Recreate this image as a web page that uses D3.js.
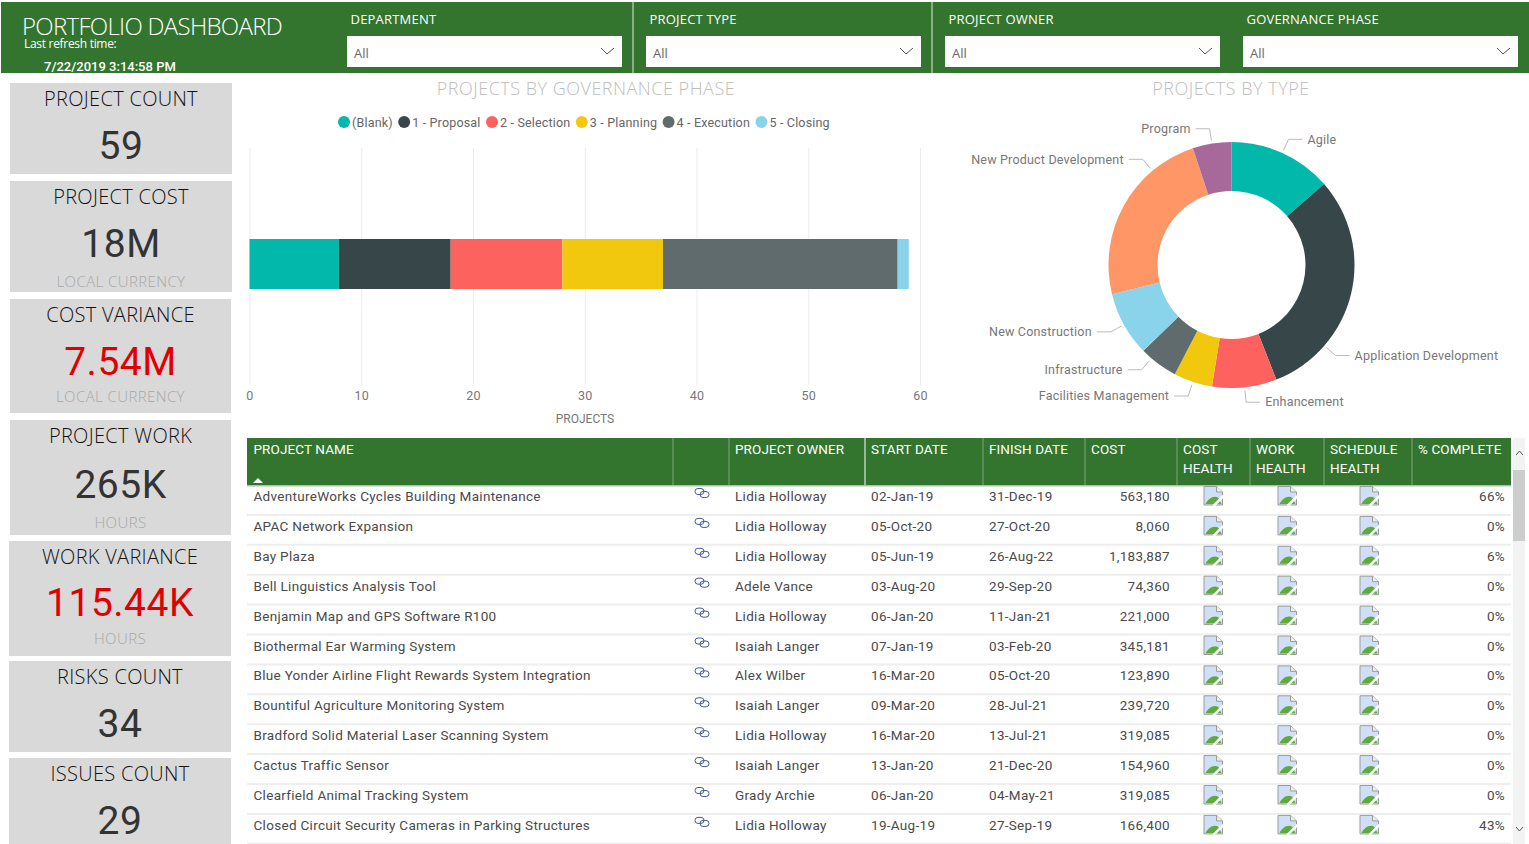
<!DOCTYPE html>
<html>
<head>
<meta charset="utf-8">
<title>Portfolio Dashboard</title>
<script src="https://cdn.jsdelivr.net/npm/d3@7"></script>
<style>
  html, body { margin: 0; padding: 0; background: #fff; overflow: hidden; }
  svg { display: block; }
  .din { font-family: Roboto, sans-serif; }
  .seg { font-family: "Open Sans", sans-serif; }
  .grid .domain { display: none; }
  .grid line { stroke: #ececec; }
  .grid text { font-family: Roboto, sans-serif; font-size: 12.5px; fill: #777; letter-spacing: .3px; }
</style>
</head>
<body>
<svg id="chart" width="1529" height="844"></svg>
<script>
// ---- data ----
var filterLabels = ["DEPARTMENT", "PROJECT TYPE", "PROJECT OWNER", "GOVERNANCE PHASE"];

var kpiTitles = ["PROJECT COUNT", "PROJECT COST", "COST VARIANCE", "PROJECT WORK", "WORK VARIANCE", "RISKS COUNT", "ISSUES COUNT"];
var kpiValues = ["59", "18M", "7.54M", "265K", "115.44K", "34", "29"];
var kpiUnits = ["", "LOCAL CURRENCY", "LOCAL CURRENCY", "HOURS", "HOURS", "", ""];
var kpiAlert = [false, false, true, false, true, false, false];

var phases = ["(Blank)", "1 - Proposal", "2 - Selection", "3 - Planning", "4 - Execution", "5 - Closing"];
var phaseCounts = [8, 10, 10, 9, 21, 1];
var phaseTicks = [0, 10, 20, 30, 40, 50, 60];

var projectTypes = ["Agile", "Application Development", "Enhancement", "Facilities Management", "Infrastructure", "New Construction", "New Product Development", "Program"];
var typeCounts = [8, 18, 5, 3, 3, 5, 14, 3];

var tableHeaders = [["PROJECT NAME"], [""], ["PROJECT OWNER"], ["START DATE"], ["FINISH DATE"], ["COST"], ["COST", "HEALTH"], ["WORK", "HEALTH"], ["SCHEDULE", "HEALTH"], ["% COMPLETE"]];
var projectNames = [
  "AdventureWorks Cycles Building Maintenance",
  "APAC Network Expansion",
  "Bay Plaza",
  "Bell Linguistics Analysis Tool",
  "Benjamin Map and GPS Software R100",
  "Biothermal Ear Warming System",
  "Blue Yonder Airline Flight Rewards System Integration",
  "Bountiful Agriculture Monitoring System",
  "Bradford Solid Material Laser Scanning System",
  "Cactus Traffic Sensor",
  "Clearfield Animal Tracking System",
  "Closed Circuit Security Cameras in Parking Structures"
];
var projectOwners = ["Lidia Holloway", "Lidia Holloway", "Lidia Holloway", "Adele Vance", "Lidia Holloway", "Isaiah Langer", "Alex Wilber", "Isaiah Langer", "Lidia Holloway", "Isaiah Langer", "Grady Archie", "Lidia Holloway"];
var startDates = ["02-Jan-19", "05-Oct-20", "05-Jun-19", "03-Aug-20", "06-Jan-20", "07-Jan-19", "16-Mar-20", "09-Mar-20", "16-Mar-20", "13-Jan-20", "06-Jan-20", "19-Aug-19"];
var finishDates = ["31-Dec-19", "27-Oct-20", "26-Aug-22", "29-Sep-20", "11-Jan-21", "03-Feb-20", "05-Oct-20", "28-Jul-21", "13-Jul-21", "21-Dec-20", "04-May-21", "27-Sep-19"];
var costs = [563180, 8060, 1183887, 74360, 221000, 345181, 123890, 239720, 319085, 154960, 319085, 166400];
var percentComplete = [66, 0, 6, 0, 0, 0, 0, 0, 0, 0, 0, 43];

// ---- colours ----
var green = "#33752f";
var palette = ["#01b8aa", "#374649", "#fd625e", "#f2c80f", "#5f6b6d", "#8ad4eb", "#fe9666", "#a66999"];

var svg = d3.select("#chart");

function label(parent, x, y, text, size, color, cls, anchor) {
  return parent.append("text")
    .attr("class", cls)
    .attr("x", x).attr("y", y)
    .attr("dominant-baseline", "central")
    .attr("text-anchor", anchor || "start")
    .style("font-size", size + "px")
    .style("fill", color)
    .text(text);
}

// ---- header ----
var header = svg.append("g");
header.append("rect").attr("x", 1).attr("y", 2).attr("width", 1528).attr("height", 71).attr("fill", green);
header.selectAll("line").data([633, 932]).enter().append("line")
  .attr("x1", function(d) { return d; }).attr("x2", function(d) { return d; })
  .attr("y1", 2).attr("y2", 73).attr("stroke", "#dfe9de");

label(header, 22, 25.5, "PORTFOLIO DASHBOARD", 24, "#fff", "seg").style("font-weight", 300).style("letter-spacing", "-.7px");
label(header, 24, 43.5, "Last refresh time:", 12, "#fff", "seg").style("letter-spacing", "-.3px");
label(header, 44, 66, "7/22/2019 3:14:58 PM", 13, "#fff", "din").style("font-weight", 500);

var filterX = d3.scaleOrdinal().domain(filterLabels).range([347, 646, 945, 1243]);
filterLabels.forEach(function(name) {
  var x = filterX(name);
  label(header, x + 3.5, 19, name, 13, "#fff", "seg").style("letter-spacing", ".2px");
  header.append("rect").attr("x", x).attr("y", 36).attr("width", 275).attr("height", 31).attr("fill", "#fff");
  label(header, x + 7, 53, "All", 13, "#666", "seg");
  header.append("path")
    .attr("d", d3.line()([[x + 254, 48], [x + 260, 54], [x + 267, 48]]))
    .attr("fill", "none").attr("stroke", "#555");
});

// ---- kpi cards ----
// x, y, width, height, value offset, unit offset
var cardBoxes = [[10, 83, 222, 91, 63], [10, 181, 222, 111, 63, 100], [10, 299, 221, 114, 63, 97], [10, 420, 221, 115, 65, 102], [9, 541, 222, 115, 62, 97], [9, 661, 222, 91, 63], [9, 758, 222, 86, 63]];
var cards = svg.append("g");
kpiTitles.forEach(function(title, i) {
  var b = cardBoxes[i];
  var cx = b[0] + b[2] / 2;
  cards.append("rect").attr("x", b[0]).attr("y", b[1]).attr("width", b[2]).attr("height", b[3]).attr("fill", "#d9d9d9");
  label(cards, cx, b[1] + 15.5, title, 20, "#111", "seg", "middle").style("font-weight", 300).style("letter-spacing", ".3px");
  label(cards, cx, b[1] + b[4], kpiValues[i], 39, kpiAlert[i] ? "#e00000" : "#333", "din", "middle").style("letter-spacing", ".5px");
  if (kpiUnits[i]) {
    label(cards, cx, b[1] + b[5], kpiUnits[i], 15, "#a8a8a8", "seg", "middle").style("font-weight", 300).style("letter-spacing", ".4px");
  }
});

// ---- stacked bar ----
var titleColor = "#bdbdbd";
label(svg, 586, 87.5, "PROJECTS BY GOVERNANCE PHASE", 18, titleColor, "seg", "middle").style("font-weight", 300).style("letter-spacing", ".5px");

var x = d3.scaleLinear().domain([0, 60]).range([249.5, 920]);
var y = d3.scaleBand().domain(["Projects"]).range([148, 380]).padding(0.6454);

var axis = d3.axisBottom(x).tickValues(phaseTicks).tickSize(-237).tickPadding(6);
svg.append("g").attr("class", "grid").attr("transform", "translate(0,385)").call(axis);

var stacked = d3.cumsum(phaseCounts);
svg.append("g").selectAll("rect").data(phaseCounts).enter().append("rect")
  .attr("x", function(d, i) { return x(stacked[i] - d); })
  .attr("y", y("Projects"))
  .attr("width", function(d) { return x(d) - x(0); })
  .attr("height", y.bandwidth())
  .attr("fill", function(d, i) { return palette[i]; });

label(svg, 585, 419, "PROJECTS", 12, "#777", "din", "middle");

// legend flows along from the left, each item measured
var legend = svg.append("g");
var legendX = 338;
phases.forEach(function(name, i) {
  legend.append("circle").attr("cx", legendX + 6).attr("cy", 122).attr("r", 6).attr("fill", palette[i]);
  var t = label(legend, legendX + 14, 122, name, 12.5, "#666", "din").style("letter-spacing", ".18px");
  legendX += 14 + t.node().getComputedTextLength() + 5.4;
});

// ---- donut ----
label(svg, 1231, 87.5, "PROJECTS BY TYPE", 18, titleColor, "seg", "middle").style("font-weight", 300).style("letter-spacing", ".5px");

var outer = 123, inner = 74;
var donut = svg.append("g").attr("transform", "translate(1231.5,265)");
var pie = d3.pie().sort(null).value(function(d) { return d; });
var arc = d3.arc().innerRadius(inner).outerRadius(outer);
var slices = pie(typeCounts);

donut.selectAll("path").data(slices).enter().append("path")
  .attr("d", arc)
  .attr("fill", function(d, i) { return palette[i % palette.length]; });

// a few labels get pushed along the ring in the original to avoid crowding
var labelNudge = [0, 27.3, 0, 0, 4, 0, 21, 0];
slices.forEach(function(s, i) {
  var a = (s.startAngle + s.endAngle) / 2 + labelNudge[i] * Math.PI / 180;
  var sx = Math.sin(a), cy = -Math.cos(a);
  var dir = sx >= 0 ? 1 : -1;
  var elbow = [sx * (outer + 15), cy * (outer + 15)];
  donut.append("path")
    .attr("d", d3.line()([[sx * (outer + 3), cy * (outer + 3)], elbow, [elbow[0] + dir * 14, elbow[1]]]))
    .attr("fill", "none").attr("stroke", "#bbb");
  label(donut, elbow[0] + dir * 19, elbow[1] - 0.25, projectTypes[i], 12.5, "#777", "din", dir > 0 ? "start" : "end").style("letter-spacing", ".2px");
});

// ---- table ----
var colX = [247, 673, 729, 865, 983, 1085, 1177, 1250, 1324, 1412, 1511];
var rowY = d3.scaleBand().domain(projectNames).range([486, 486 + 29.9 * projectNames.length]);
var table = svg.append("g");

// row rules first, text on top
table.selectAll("line.rule").data(projectNames).enter().append("line")
  .attr("class", "rule")
  .attr("x1", colX[0]).attr("x2", colX[10])
  .attr("y1", function(d) { return rowY(d) + rowY.bandwidth() - 1; })
  .attr("y2", function(d) { return rowY(d) + rowY.bandwidth() - 1; })
  .attr("stroke", "#eee").attr("stroke-width", 2);

table.append("rect").attr("x", colX[0]).attr("y", 438).attr("width", colX[10] - colX[0]).attr("height", 47).attr("fill", green);
table.append("rect").attr("x", colX[0]).attr("y", 485).attr("width", colX[10] - colX[0]).attr("height", 1.5).attr("fill", "#a9c4a7");

colX.slice(1, 10).forEach(function(cx, i) {
  table.append("line").attr("x1", cx).attr("x2", cx).attr("y1", 438).attr("y2", 485)
    .attr("stroke", cx === 865 ? "#fff" : "#7fa87c");
  tableHeaders[i + 1].forEach(function(line, j) {
    label(table, cx + 6, 449 + j * 19, line, 13.5, "#fff", "din").style("letter-spacing", ".1px");
  });
});
label(table, colX[0] + 6.5, 449, tableHeaders[0][0], 13.5, "#fff", "din").style("letter-spacing", ".1px");
table.append("path").attr("d", "M253,483L258,478L263,483Z").attr("fill", "#fff");

function linkIcon(g, cx, cy) {
  var icon = g.append("g").attr("transform", "translate(" + cx + "," + cy + ")")
    .attr("fill", "none").attr("stroke", "#4a5a96").attr("stroke-width", 1);
  icon.append("rect").attr("x", -7).attr("y", -4.5).attr("width", 9).attr("height", 6).attr("rx", 3);
  icon.append("rect").attr("x", -2).attr("y", -1.5).attr("width", 9).attr("height", 6).attr("rx", 3);
}

// broken image placeholder, the picture shows these in the health columns
function brokenImage(g, cx, top) {
  var icon = g.append("g").attr("transform", "translate(" + (cx - 9.5) + "," + top + ")");
  icon.append("path").attr("d", "M.5,.5H13L19,6V19H.5Z").attr("fill", "#cfe0f6").attr("stroke", "#9b9b9b");
  icon.append("path").attr("d", "M2,18C5,12 11,9 15,12L18,18Z").attr("fill", "#5cab3c");
  icon.append("path").attr("d", "M13,.5V6H19").attr("fill", "#eee").attr("stroke", "#9b9b9b");
  icon.append("path").attr("d", "M10,20L20,10").attr("stroke", "#fff").attr("stroke-width", 2.5);
}

var fmt = d3.format(",");
var ink = "#4a4a4a";
projectNames.forEach(function(name, i) {
  var cy = rowY(name) + 10;
  label(table, colX[0] + 6.5, cy, name, 13.5, ink, "din").style("letter-spacing", ".3px");
  linkIcon(table, 702, cy - 3);
  label(table, colX[2] + 6, cy, projectOwners[i], 13.5, ink, "din").style("letter-spacing", ".3px");
  label(table, colX[3] + 6, cy, startDates[i], 13.5, ink, "din").style("letter-spacing", ".3px");
  label(table, colX[4] + 6, cy, finishDates[i], 13.5, ink, "din").style("letter-spacing", ".3px");
  label(table, colX[6] - 7, cy, fmt(costs[i]), 13.5, ink, "din", "end").style("letter-spacing", ".3px");
  [1213, 1287, 1369].forEach(function(cx) { brokenImage(table, cx, rowY(name)); });
  label(table, colX[10] - 6, cy, percentComplete[i] + "%", 13.5, ink, "din", "end").style("letter-spacing", ".3px");
});

// ---- scrollbar ----
var bar = svg.append("g");
bar.append("rect").attr("x", 1513).attr("y", 438).attr("width", 12).attr("height", 406).attr("fill", "#f3f3f3");
bar.append("rect").attr("x", 1513).attr("y", 470).attr("width", 12).attr("height", 71).attr("fill", "#cdcdcd");
bar.append("path").attr("d", "M1516,455L1519.5,451L1523,455").attr("fill", "none").attr("stroke", "#555");
bar.append("path").attr("d", "M1516,827L1519.5,831L1523,827").attr("fill", "none").attr("stroke", "#555");
</script>
</body>
</html>
